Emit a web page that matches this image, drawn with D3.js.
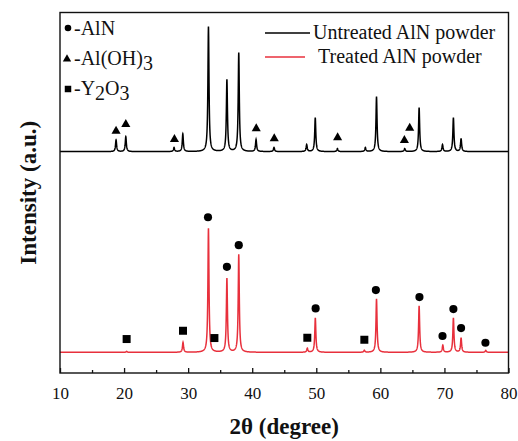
<!DOCTYPE html>
<html>
<head>
<meta charset="utf-8">
<script src="https://cdn.jsdelivr.net/npm/d3@7"></script>
<style>
  body { margin: 0; background: #fff; }
  svg text { font-family: "Liberation Serif", "Times New Roman", serif; fill: #111; }
</style>
</head>
<body>
<svg id="chart" width="518" height="441"></svg>
<script>
// peak positions (2theta, degree) and heights above background (a.u.)
var untreatedPeaks = [
  [18.75, 117], [20.27, 150], [27.8, 40], [29.17, 177], [33.17, 1250],
  [36.05, 720], [37.9, 990], [40.6, 120], [43.4, 40], [48.5, 70],
  [49.84, 340], [53.3, 30], [57.66, 40], [59.4, 550], [63.8, 30],
  [66.05, 440], [69.7, 70], [71.4, 340], [72.6, 130]
];
var treatedPeaks = [
  [20.4, 10], [29.2, 100], [33.17, 1240], [36.05, 740], [37.9, 980],
  [48.6, 40], [49.85, 345], [57.5, 20], [59.4, 535], [66.05, 465],
  [69.75, 72], [71.4, 345], [72.6, 145], [76.45, 20]
];
var background = 207;
var untreatedOffset = 2010;

// phase markers: [2theta, intensity]
var alnMarks = [
  [33.1, 1560], [36.05, 1063], [37.9, 1280], [49.9, 647], [59.3, 830],
  [66.1, 760], [69.7, 370], [71.4, 640], [72.6, 450], [76.4, 303]
];
var y2o3Marks = [[20.4, 340], [29.2, 423], [34.1, 350], [48.6, 353], [57.5, 333]];
var aloh3Marks = [
  [18.75, 413], [20.27, 480], [27.86, 330], [40.63, 437],
  [43.44, 337], [53.33, 347], [64.58, 443], [63.75, 320]
];

var xTicks = [10, 20, 30, 40, 50, 60, 70, 80];
var xMinorTicks = [15, 25, 35, 45, 55, 65, 75];

var RED = "#e8303c";
var SERIF = "'Liberation Serif', 'Times New Roman', serif";

var margin = {top: 12.5, right: 9.5, bottom: 68, left: 60},
    width = 518 - margin.left - margin.right,
    height = 441 - margin.top - margin.bottom;

var svg = d3.select("#chart");
var g = svg.append("g")
    .attr("transform", "translate(" + margin.left + "," + margin.top + ")");

var x = d3.scaleLinear().domain([10, 80]).range([0, width]);
var y = d3.scaleLinear().domain([0, 3610]).range([height, 0]);

// line profile of a pattern built from its peak list
var pattern = function(peaks, offset) {
  var hw = 0.1;
  var xs = d3.range(10, 80.0001, 0.02).concat(peaks.map(function(p) { return p[0]; }));
  xs.sort(d3.ascending);
  return xs.map(function(t) {
    var v = background + offset;
    for (var i = 0; i < peaks.length; i++) {
      var d = t - peaks[i][0];
      v += peaks[i][1] * hw * hw / (d * d + hw * hw);
    }
    return [t, v];
  });
};

var line = d3.line()
    .x(function(d) { return x(d[0]); })
    .y(function(d) { return y(d[1]); });

g.append("path")
    .datum(pattern(untreatedPeaks, untreatedOffset))
    .attr("fill", "none")
    .attr("stroke", "#000")
    .attr("stroke-width", 1.5)
    .attr("d", line);

g.append("path")
    .datum(pattern(treatedPeaks, 0))
    .attr("fill", "none")
    .attr("stroke", RED)
    .attr("stroke-width", 1.5)
    .attr("d", line);

// markers
var sym = function(type, size) { return d3.symbol().type(type).size(size)(); };

g.selectAll(".aln").data(alnMarks).enter().append("path")
    .attr("d", sym(d3.symbolCircle, 52))
    .attr("transform", function(d) { return "translate(" + x(d[0]) + "," + y(d[1]) + ")"; })
    .attr("fill", "#000");

g.selectAll(".y2o3").data(y2o3Marks).enter().append("path")
    .attr("d", sym(d3.symbolSquare, 64))
    .attr("transform", function(d) { return "translate(" + x(d[0]) + "," + y(d[1]) + ")"; })
    .attr("fill", "#000");

g.selectAll(".aloh").data(aloh3Marks).enter().append("path")
    .attr("d", sym(d3.symbolTriangle, 36))
    .attr("transform", function(d) { return "translate(" + x(d[0]) + "," + (y(d[1] + untreatedOffset)) + ")"; })
    .attr("fill", "#000");

// axes
var xAxis = g.append("g")
    .attr("transform", "translate(0," + height + ")")
    .call(d3.axisBottom(x).tickValues(xTicks).tickSize(-5).tickPadding(14));
xAxis.attr("font-family", SERIF);
xAxis.select(".domain").remove();
xAxis.selectAll("line").attr("stroke", "#111").attr("stroke-width", 1.3);
xAxis.selectAll("text").style("font-size", "17px").attr("fill", "#111")
    .style("font-family", SERIF);

var xMinor = g.append("g")
    .attr("transform", "translate(0," + height + ")")
    .call(d3.axisBottom(x).tickValues(xMinorTicks).tickSize(-3).tickFormat(""));
xMinor.select(".domain").remove();
xMinor.selectAll("line").attr("stroke", "#111").attr("stroke-width", 1.3);

g.append("rect")
    .attr("width", width)
    .attr("height", height)
    .attr("fill", "none")
    .attr("stroke", "#111")
    .attr("stroke-width", 1.4);

// axis titles
svg.append("text")
    .attr("x", margin.left + width / 2)
    .attr("y", 434)
    .attr("text-anchor", "middle")
    .style("font-size", "23px")
    .style("font-weight", "bold")
    .text("2θ (degree)");

svg.append("text")
    .attr("transform", "translate(36," + (margin.top + height / 2) + ") rotate(-90)")
    .attr("text-anchor", "middle")
    .style("font-size", "23px")
    .style("font-weight", "bold")
    .text("Intensity (a.u.)");

// phase legend (top left)
var phase = svg.append("g").attr("transform", "translate(68,0)");
phase.append("path").attr("d", sym(d3.symbolCircle, 34)).attr("transform", "translate(0,28)");
phase.append("text").attr("x", 6).attr("y", 35).style("font-size", "20px").text("-AlN");
phase.append("path").attr("d", sym(d3.symbolTriangle, 30)).attr("transform", "translate(-1,59)");
var t2 = phase.append("text").attr("x", 6).attr("y", 65).style("font-size", "20px");
t2.append("tspan").text("-Al(OH)");
t2.append("tspan").attr("dy", 5).text("3");
phase.append("path").attr("d", sym(d3.symbolSquare, 42)).attr("transform", "translate(0,89)");
var t3 = phase.append("text").attr("x", 6).attr("y", 95).style("font-size", "20px");
t3.append("tspan").text("-Y");
t3.append("tspan").attr("dy", 5).text("2");
t3.append("tspan").attr("dy", -5).text("O");
t3.append("tspan").attr("dy", 5).text("3");

// series legend (top right)
var series = [
  {name: "Untreated AlN powder", color: "#000"},
  {name: "Treated AlN powder", color: RED}
];
var leg = svg.append("g").attr("transform", "translate(265,33)");
var item = leg.selectAll("g").data(series).enter().append("g")
    .attr("transform", function(d, i) { return "translate(0," + (i * 24) + ")"; });
item.append("line")
    .attr("x1", 0).attr("x2", function(d, i) { return i ? 40 : 45; })
    .attr("stroke", function(d) { return d.color; })
    .attr("stroke-width", 1.5);
item.append("text")
    .attr("x", function(d, i) { return i ? 53 : 48; })
    .attr("y", 6)
    .style("font-size", "20px")
    .text(function(d) { return d.name; });
</script>
</body>
</html>
